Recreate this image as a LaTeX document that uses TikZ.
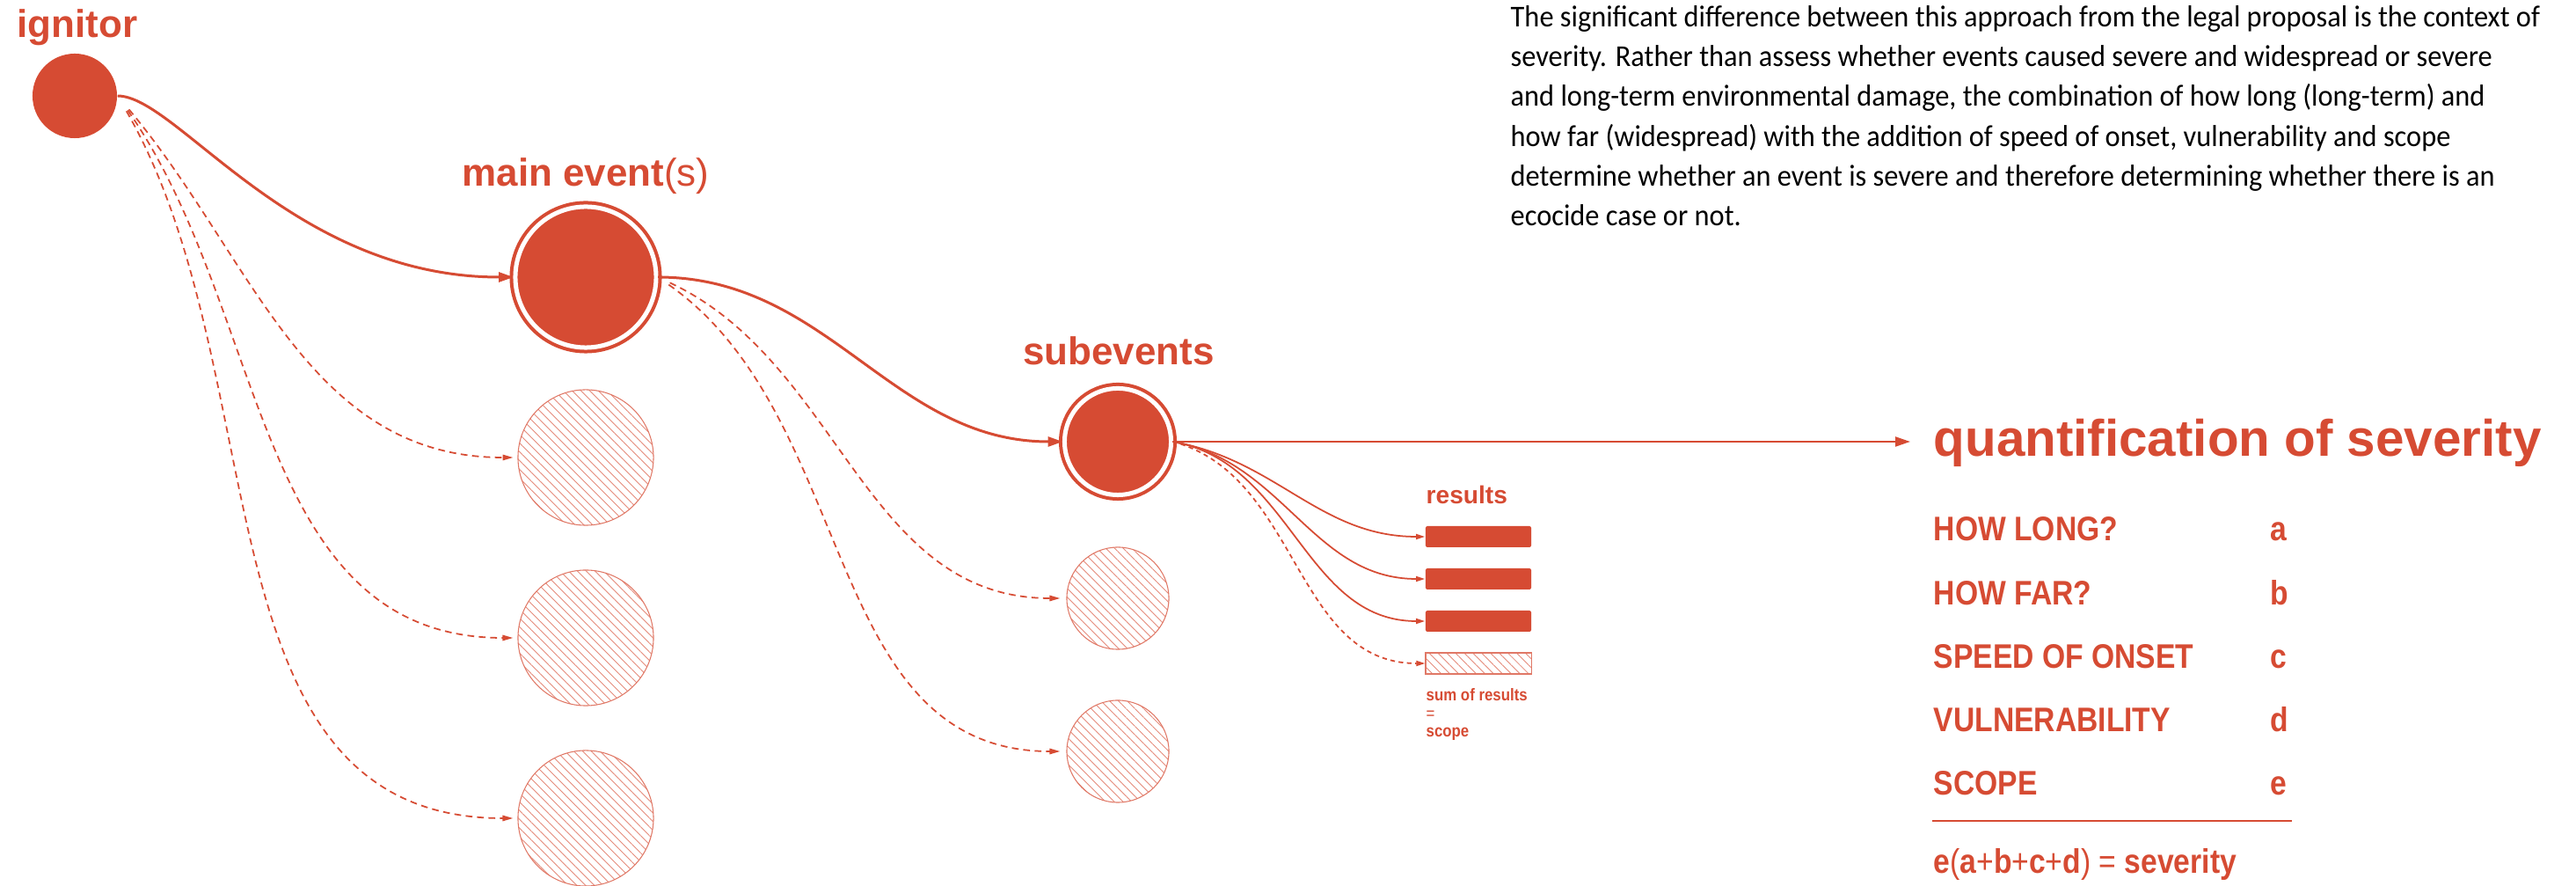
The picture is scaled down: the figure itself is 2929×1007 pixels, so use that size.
\documentclass[tikz,border=0pt]{standalone}
\usepackage{fontspec}
\setmainfont{Liberation Sans}
\newfontfamily\bodyfont[FakeStretch=0.94]{Carlito}
\newfontfamily\condfont[FakeStretch=0.87]{Liberation Sans}
\usetikzlibrary{arrows.meta,patterns.meta}
\definecolor{evred}{HTML}{D64B33}
\newcommand{\lightop}[1]{{\mdseries #1}}

\tikzset{
  lbl/.style={text=evred, font=\bfseries\fontsize{12.5}{15}\selectfont, inner sep=0pt},
  ringnode/.style={circle, fill=evred, draw=evred, line width=0.04cm, double=white, double distance=0.05cm, inner sep=0pt},
  hatched/.style={circle, draw=evred!75, line width=0.3pt, pattern={Lines[angle=-45,distance=2pt,line width=0.25pt]}, pattern color=evred!65, inner sep=0pt},
  mainarrow/.style={draw=evred, line width=0.85pt, -{Triangle[length=4.8pt,width=3.1pt]}},
  altarrow/.style={draw=evred, line width=0.5pt, dash pattern=on 2.2pt off 1.5pt, -{Triangle[length=3.4pt,width=1.8pt]}},
  resarrow/.style={draw=evred, line width=0.5pt, -{Triangle[length=2.9pt,width=1.7pt]}},
  resbar/.style={rectangle, fill=evred, minimum width=1.2cm, minimum height=0.24cm, rounded corners=0.6pt, inner sep=0pt},
  hatchbar/.style={rectangle, draw=evred!75, line width=0.3pt, pattern={Lines[angle=-45,distance=2pt,line width=0.25pt]}, pattern color=evred!65, minimum width=1.2cm, minimum height=0.24cm, inner sep=0pt},
  listtxt/.style={text=evred, font=\condfont\bfseries\fontsize{11}{13}\selectfont, inner sep=0pt, anchor=base west},
}

\begin{document}
\begin{tikzpicture}[x=0.01cm, y=0.01cm]
  \useasboundingbox (0,0) rectangle (2929,-1007);

  % ignitor
  \node[circle, fill=evred, minimum size=0.96cm, inner sep=0pt] (ign) at (85,-109) {};
  \node[lbl, anchor=base] (ignlbl) at (88,-43) {ignitor};

  % main event(s)
  \node[ringnode, minimum size=1.6cm] (main) at (666,-315) {};
  \node[lbl, anchor=base] (mainlbl) at (666,-212) {main event\lightop{(s)}};
  \node[hatched, minimum size=1.54cm] (alt1) at (666,-520) {};
  \node[hatched, minimum size=1.54cm] (alt2) at (666,-725) {};
  \node[hatched, minimum size=1.54cm] (alt3) at (666,-930) {};

  % subevents
  \node[ringnode, minimum size=1.21cm] (sub) at (1271,-502) {};
  \node[lbl, anchor=base] (sublbl) at (1272,-415) {subevents};
  \node[hatched, minimum size=1.16cm] (subalt1) at (1271,-680) {};
  \node[hatched, minimum size=1.16cm] (subalt2) at (1271,-854) {};

  % results
  \node[lbl, font=\bfseries\fontsize{8}{10}\selectfont, anchor=base west] (reslbl) at (1621,-573) {results};
  \node[resbar] (res1) at (1681,-610) {};
  \node[resbar] (res2) at (1681,-658) {};
  \node[resbar] (res3) at (1681,-706) {};
  \node[hatchbar] (ressum) at (1681,-754) {};
  \node[text=evred, font=\condfont\bfseries\fontsize{5.5}{5.85}\selectfont, align=left, anchor=base west, inner sep=0pt] (sumlbl) at (1621,-838) {sum of results\\\lightop{=}\\scope};

  % quantification of severity
  \node[lbl, font=\bfseries\fontsize{16.6}{20}\selectfont, anchor=base west, inner xsep=0.26cm, inner ysep=0pt] (quant) at (2172,-519) {quantification of severity};
  \node[listtxt] (howlong) at (2198,-615) {HOW LONG?};
  \node[listtxt] (howfar) at (2198,-688) {HOW FAR?};
  \node[listtxt] (speed) at (2198,-760) {SPEED OF ONSET};
  \node[listtxt] (vuln) at (2198,-832) {VULNERABILITY};
  \node[listtxt] (scope) at (2198,-904) {SCOPE};
  \node[listtxt] (vara) at (2581,-615) {a};
  \node[listtxt] (varb) at (2581,-688) {b};
  \node[listtxt] (varc) at (2581,-760) {c};
  \node[listtxt] (vard) at (2581,-832) {d};
  \node[listtxt] (vare) at (2581,-904) {e};
  \draw[evred, line width=0.4pt] (2197,-933) -- (2606,-933);
  \node[listtxt] (formula) at (2198,-993) {e\lightop{(}a\lightop{+}b\lightop{+}c\lightop{+}d\lightop{)} \lightop{=} severity};

  % note
  \node[font=\bodyfont\fontsize{9.8}{12.9}\selectfont, align=left, anchor=base west, inner sep=0pt] (note) at (1717,-257) {The significant difference between this approach from the legal proposal is the context of\\
severity. Rather than assess whether events caused severe and widespread or severe\\
and long-term environmental damage, the combination of how long (long-term) and\\
how far (widespread) with the addition of speed of onset, vulnerability and scope\\
determine whether an event is severe and therefore determining whether there is an\\
ecocide case or not.};

  % connectors
  \draw[mainarrow] (ign.east) to[out=0, in=180, out looseness=0.35, in looseness=1.3] (main.west);
  \draw[altarrow, shorten <=0.2cm, shorten >=0.05cm] (ign.east) to[out=-50, in=180] (alt1.west);
  \draw[altarrow, shorten <=0.2cm, shorten >=0.05cm] (ign.east) to[out=-55, in=180] (alt2.west);
  \draw[altarrow, shorten <=0.2cm, shorten >=0.05cm] (ign.east) to[out=-60, in=180] (alt3.west);
  \draw[mainarrow] (main.east) to[out=0, in=180] (sub.west);
  \draw[altarrow, shorten <=0.15cm, shorten >=0.07cm] (main.east) to[out=-25, in=180] (subalt1.west);
  \draw[altarrow, shorten <=0.15cm, shorten >=0.07cm] (main.east) to[out=-35, in=180] (subalt2.west);
  \draw[mainarrow, line width=0.65pt] (sub.east) -- (sub.east -| quant.west);
  \draw[resarrow] (sub.east) to[out=-10, in=180] (res1.west);
  \draw[resarrow] (sub.east) to[out=-10, in=180] (res2.west);
  \draw[resarrow] (sub.east) to[out=-10, in=180] (res3.west);
  \draw[resarrow, dash pattern=on 1.5pt off 1.2pt] (sub.east) to[out=-15, in=180] (ressum.west);
\end{tikzpicture}
\end{document}
